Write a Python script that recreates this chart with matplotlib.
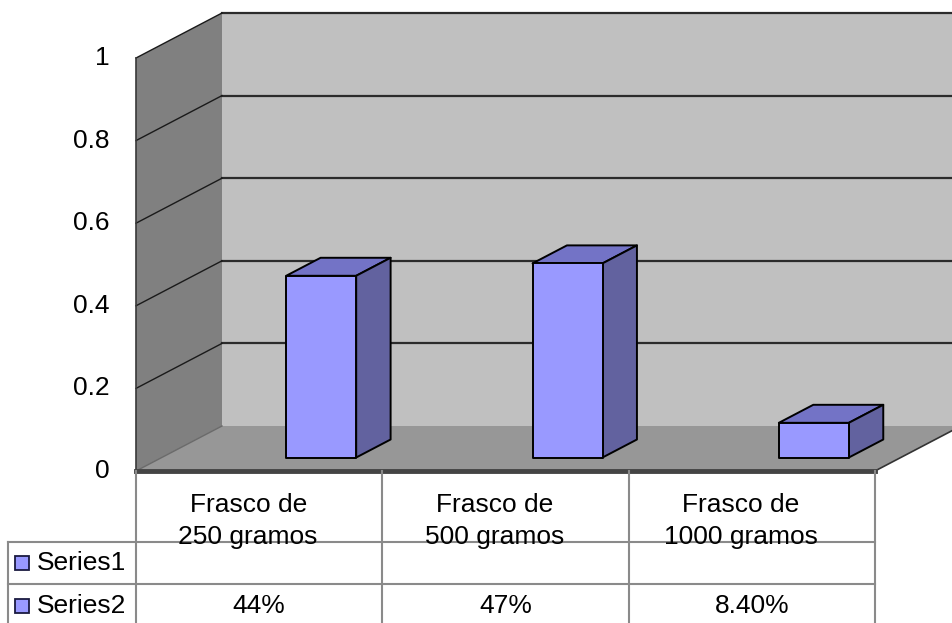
import matplotlib
matplotlib.use("Agg")
from matplotlib import pyplot as plt
from matplotlib.patches import Polygon

plt.rcParams['font.family'] = ['Liberation Sans', 'DejaVu Sans']
font_size = 19

# data
categories = ["Frasco de\n250 gramos", "Frasco de\n500 gramos", "Frasco de\n1000 gramos"]
series_names = ["Series1", "Series2"]
series1 = [None, None, None]
series2 = [0.44, 0.47, 0.084]
series2_labels = ["44%", "47%", "8.40%"]
yticks = [0, 0.2, 0.4, 0.6, 0.8, 1]
ytick_labels = ["0", "0.2", "0.4", "0.6", "0.8", "1"]

# oblique projection of depth (in data units)
DX = 86 / 246.33
DY = 45 / 413.0
ymax = 1.0
n = len(categories)


def proj(x, y, d):
    return (x + d * DX, y + d * DY)


fig = plt.figure(figsize=(9.53, 6.23), dpi=100)
ax = fig.add_axes([136 / 953, (623 - 471) / 623, 739 / 953, 413 / 623])
ax.set_xlim(0, n)
ax.set_ylim(0, ymax)
ax.axis("off")


def poly(pts, fc, ec="none", lw=0, z=1):
    p = Polygon(pts, closed=True, facecolor=fc, edgecolor=ec, linewidth=lw,
                clip_on=False, zorder=z, joinstyle="round")
    ax.add_patch(p)


# back wall, side wall, floor
poly([proj(0, 0, 1), proj(n, 0, 1), proj(n, ymax, 1), proj(0, ymax, 1)], "#c0c0c0", z=1)
poly([proj(0, 0, 0), proj(0, 0, 1), proj(0, ymax, 1), proj(0, ymax, 0)], "#808080", z=1)
poly([proj(0, 0, 0), proj(n, 0, 0), proj(n, 0, 1), proj(0, 0, 1)], "#979797", z=1.5)

# gridlines
for v in yticks[1:]:
    x0, y0 = proj(0, v, 1)
    x1, y1 = proj(n, v, 1)
    ax.plot([x0, x1], [y0, y1], color="#2b2b2b", lw=1.6, clip_on=False, zorder=2)
    ax.plot([0, x0], [v, y0], color="#1a1a1a", lw=1.0, clip_on=False, zorder=2)
ax.plot([0, 0], [0, ymax], color="#3a3a3a", lw=1.2, clip_on=False, zorder=2)
ax.plot([0, proj(0, 0, 1)[0]], [0, proj(0, 0, 1)[1]], color="#6a6a6a", lw=1.0, clip_on=False, zorder=2)
ax.plot([n, proj(n, 0, 1)[0]], [0, proj(n, 0, 1)[1]], color="#333333", lw=1.2, clip_on=False, zorder=2)
ax.plot([0, n], [0, 0], color="#444444", lw=3.5, clip_on=False, zorder=2)

# bars
bar_off = 0.505
bar_w = 70 / 246.33
d0, d1 = 0.3, 0.7
for i, v in enumerate(series2):
    xl = i + bar_off
    xr = xl + bar_w
    top = [proj(xl, v, d0), proj(xr, v, d0), proj(xr, v, d1), proj(xl, v, d1)]
    side = [proj(xr, 0, d0), proj(xr, 0, d1), proj(xr, v, d1), proj(xr, v, d0)]
    front = [proj(xl, 0, d0), proj(xr, 0, d0), proj(xr, v, d0), proj(xl, v, d0)]
    poly(top, "#7373c6", "black", 1.4, z=3)
    poly(side, "#62629f", "black", 1.4, z=3)
    poly(front, "#9999ff", "black", 1.4, z=3.5)

# y tick labels
for v, lab in zip(yticks, ytick_labels):
    ax.text(-0.1056, v, lab, ha="right", va="center", fontsize=font_size, clip_on=False)

# data table
px_x = 1 / 246.33
px_y = 1 / 413.0
row1 = -71 * px_y
row2 = -113 * px_y
bottom = -160 * px_y
left = -128 * px_x
tc = "#8a8a8a"
for x in range(n + 1):
    ax.plot([x, x], [0, bottom], color=tc, lw=1.5, clip_on=False, zorder=2)
for y in (row1, row2):
    ax.plot([left, n], [y, y], color=tc, lw=1.5, clip_on=False, zorder=2)
ax.plot([left, left], [row1, bottom], color=tc, lw=1.5, clip_on=False, zorder=2)

for i, cat in enumerate(categories):
    l1, l2 = cat.split("\n")
    cx = i + 0.5 - 11 * px_x
    ax.text(cx, -41 * px_y, l1, ha="center", va="baseline", fontsize=font_size, clip_on=False)
    ax.text(cx, -73 * px_y, l2, ha="center", va="baseline", fontsize=font_size, clip_on=False)

for i, lab in enumerate(series2_labels):
    ax.text(i + 0.5, -142 * px_y, lab, ha="center", va="baseline", fontsize=font_size, clip_on=False)

for j, name in enumerate(series_names):
    yb = -99 * px_y - j * 43 * px_y
    ax.plot([-113.5 * px_x], [yb + 7 * px_y], marker="s", ms=10.5, mfc="#9999ff",
            mec="#1a1a40", mew=1.3, clip_on=False, zorder=4)
    ax.text(-99 * px_x, yb, name, ha="left", va="baseline", fontsize=font_size, clip_on=False)

fig.savefig("out.png", dpi=100)
